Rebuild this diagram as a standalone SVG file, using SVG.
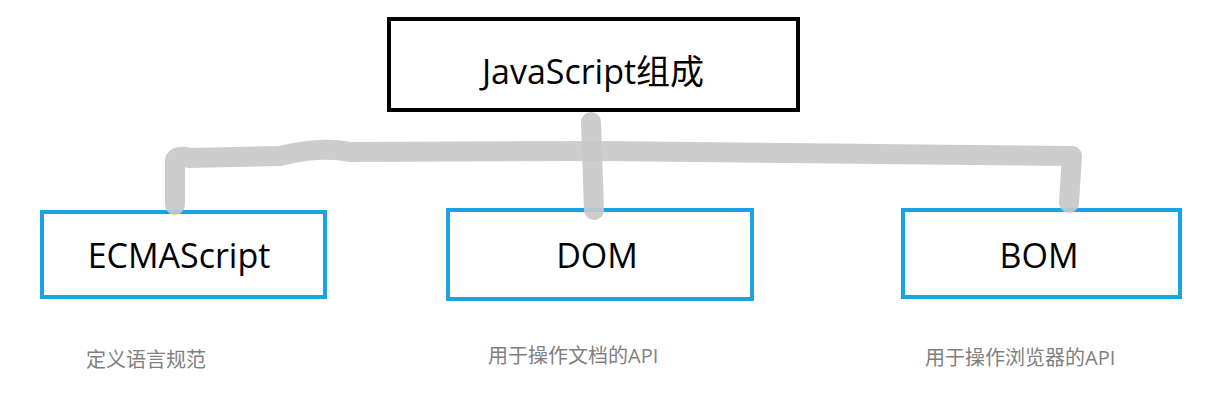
<svg xmlns="http://www.w3.org/2000/svg" width="1212" height="406" viewBox="0 0 1212 406">
<style>
.top{fill:#fff;stroke:#000;stroke-width:4}
.box{fill:#fff;stroke:#1aa3e3;stroke-width:4}
.t{font-family:"Open Sans","Noto Sans CJK SC",sans-serif;fill:#000;text-anchor:middle}
.d{font-family:"Open Sans","Noto Sans CJK SC",sans-serif;fill:#808080;font-size:20px}
.c{fill:none;stroke:#c8c8c8;stroke-width:20;stroke-linecap:round;stroke-linejoin:round;opacity:0.9}
</style>
<rect width="1212" height="406" fill="#fff"/>
<g id="n-js"><rect class="top" x="389" y="19" width="409" height="91"/><text class="t" x="593" y="84" font-size="34">JavaScript组成</text></g>
<g id="n-ecma"><rect class="box" x="42" y="212" width="283" height="85"/><text class="t" x="179" y="268" font-size="34">ECMAScript</text></g>
<g id="n-dom"><rect class="box" x="448" y="210" width="304" height="89"/><text class="t" x="597" y="268" font-size="34">DOM</text></g>
<g id="n-bom"><rect class="box" x="903" y="210" width="277" height="87"/><text class="t" x="1039" y="268" font-size="34">BOM</text></g>
<g id="connectors">
<path class="c" d="M175 205 L175 160 Q178 155 190 158 L280 156 Q320 146 350 152 L600 151 L1072 156 L1069 203"/>
<path class="c" d="M591 122 L594 210"/>
</g>
<text class="d" x="86" y="367">定义语言规范</text>
<text class="d" x="488" y="363">用于操作文档的API</text>
<text class="d" x="925" y="365">用于操作浏览器的API</text>
</svg>
